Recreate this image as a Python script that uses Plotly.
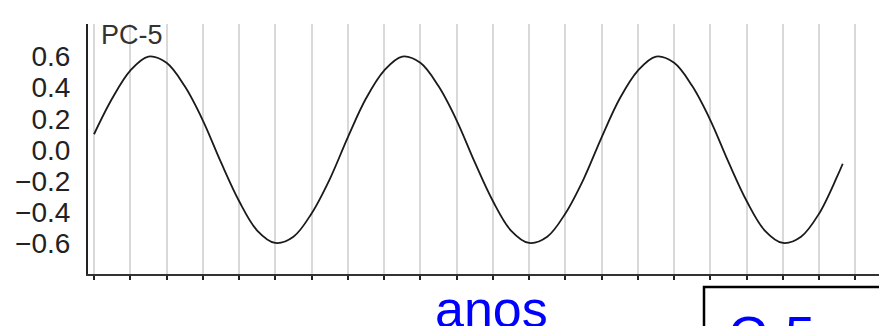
import plotly.graph_objects as go

# x in "tick" units (one unit per vertical grid line)
x_vals = [0, 0.5, 1, 1.5, 2, 2.5, 3, 3.5, 4, 4.5, 5, 5.5, 6, 6.5,
          7, 7.5, 8, 8.5, 9, 9.5, 10, 10.5, 11, 11.5, 12, 12.5, 13, 13.5,
          14, 14.5, 15, 15.5, 16, 16.5, 17, 17.5, 18, 18.5, 19, 19.5, 20, 20.5, 20.65]
pc5_vals = [0.10, 0.33, 0.51, 0.60, 0.56, 0.41, 0.19, -0.08, -0.33, -0.52, -0.60, -0.56, -0.41, -0.19,
            0.08, 0.33, 0.51, 0.60, 0.56, 0.41, 0.19, -0.08, -0.33, -0.52, -0.60, -0.56, -0.41, -0.19,
            0.08, 0.33, 0.51, 0.60, 0.56, 0.41, 0.19, -0.08, -0.33, -0.52, -0.60, -0.56, -0.41, -0.17, -0.09]
x_ticks = list(range(0, 22))
y_ticks = [0.6, 0.4, 0.2, 0.0, -0.2, -0.4, -0.6]
y_tick_text = ["0.6", "0.4", "0.2", "0.0", "\u22120.2", "\u22120.4", "\u22120.6"]

FONT = "Liberation Sans, Arial, sans-serif"

fig = go.Figure()
fig.add_trace(go.Scatter(x=x_vals, y=pc5_vals, mode="lines",
                         line=dict(color="#1a1a1a", width=1.8, shape="spline"),
                         hoverinfo="skip", showlegend=False))

fig.update_layout(
    width=879, height=326,
    margin=dict(l=88, r=0, t=24, b=52),
    paper_bgcolor="white", plot_bgcolor="white",
    font=dict(family=FONT),
    xaxis=dict(range=[-0.166, 21.65], tickvals=x_ticks, showticklabels=False,
               ticks="outside", ticklen=4, tickwidth=1.5, tickcolor="#222",
               showgrid=True, gridcolor="#d9d9d9", gridwidth=1.5,
               showline=True, linecolor="#333", linewidth=2, zeroline=False),
    yaxis=dict(range=[-0.8, 0.81], tickvals=y_ticks, ticktext=y_tick_text,
               ticks="", showgrid=False, zeroline=False,
               showline=True, linecolor="#222", linewidth=2,
               ticklabelstandoff=10,
               tickfont=dict(family=FONT, size=28, color="#222")),
)

fig.add_annotation(text="PC-5", xref="paper", yref="paper", x=(99 - 88) / 791, y=(274 - 34.5) / 250,
                   xanchor="left", yanchor="middle", showarrow=False,
                   font=dict(family=FONT, size=27, color="#333"))

fig.add_annotation(text="anos", xref="paper", yref="paper", x=(491 - 88) / 791, y=(274 - 278) / 250,
                   xanchor="center", yanchor="top", showarrow=False,
                   font=dict(family=FONT, size=52, color="#0000ff"))

fig.add_shape(type="rect", xref="paper", yref="paper",
              x0=(704 - 88) / 791, x1=1.05, y0=(274 - 287) / 250, y1=-0.6,
              line=dict(color="black", width=2.5), fillcolor="rgba(0,0,0,0)")

fig.add_annotation(text="C-5", xref="paper", yref="paper", x=(726 - 88) / 791, y=(274 - 303) / 250,
                   xanchor="left", yanchor="top", showarrow=False,
                   font=dict(family=FONT, size=54, color="#0000ff"))

fig.write_html("out.html")
